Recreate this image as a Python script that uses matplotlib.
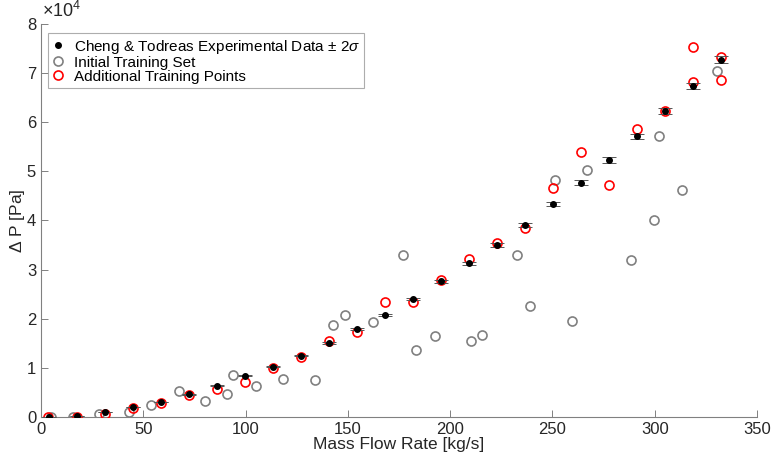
import matplotlib
matplotlib.use("Agg")
import matplotlib.pyplot as plt  # noqa: E402
import numpy as np  # noqa: E402

# experimental data (kg/s, Pa)
exp_flow = [3.9, 17.4, 31.1, 44.8, 58.5, 72.3, 85.9, 99.7, 113.2, 127.1, 140.8, 154.3, 168.1,
            181.8, 195.4, 209.2, 222.9, 236.6, 250.4, 264.1, 277.8, 291.4, 305.1, 318.8, 332.4]
exp_dp = [0.00, 0.02, 0.10, 0.20, 0.31, 0.46, 0.64, 0.84, 1.02, 1.25, 1.51, 1.79, 2.08,
          2.40, 2.76, 3.13, 3.50, 3.90, 4.33, 4.77, 5.23, 5.71, 6.22, 6.74, 7.27]
exp_err = [0.01 * v for v in exp_dp]

# initial training set
init_flow = [4.9, 15.8, 28.5, 43.0, 53.8, 67.6, 80.0, 90.8, 94.0, 105.2, 118.4, 133.8, 142.9,
             148.6, 162.1, 177.1, 183.1, 192.6, 210.0, 215.7, 232.6, 239.0, 251.1, 259.5,
             266.7, 288.4, 299.6, 302.1, 313.4, 330.6]
init_dp = [0.00, 0.00, 0.07, 0.10, 0.25, 0.52, 0.33, 0.47, 0.85, 0.64, 0.77, 0.75, 1.87,
           2.08, 1.93, 3.29, 1.36, 1.64, 1.54, 1.66, 3.29, 2.25, 4.82, 1.95,
           5.03, 3.20, 4.01, 5.71, 4.63, 7.04]

# additional training points
add_flow = [3.6, 17.4, 31.1, 44.8, 58.5, 72.3, 85.9, 99.7, 113.2, 127.1, 140.8, 154.3, 168.1,
            181.8, 195.4, 209.2, 222.9, 236.6, 250.4, 264.1, 277.8, 291.4, 305.1, 318.8,
            318.8, 332.4, 332.4]
add_dp = [0.00, 0.00, 0.07, 0.18, 0.28, 0.44, 0.57, 0.71, 1.00, 1.23, 1.55, 1.73, 2.34,
          2.35, 2.78, 3.22, 3.54, 3.84, 4.66, 5.39, 4.72, 5.86, 6.22, 7.53,
          6.81, 7.33, 6.86]

scale = 1e4

plt.rcParams["font.family"] = ["Liberation Sans", "DejaVu Sans"]
plt.rcParams["mathtext.fontset"] = "custom"
plt.rcParams["mathtext.rm"] = "Liberation Sans"
plt.rcParams["mathtext.it"] = "Liberation Sans:italic"

fig = plt.figure(figsize=(7.72, 4.61), dpi=100)
ax = fig.add_axes([0.0531, 0.0954, 0.9275, 0.8526])

h_init, = ax.plot(init_flow, np.array(init_dp) * scale, "o", ms=6.5, mfc="none",
                  mec="#808080", mew=1.2, ls="none", zorder=2)
h_add, = ax.plot(add_flow, np.array(add_dp) * scale, "o", ms=6.5, mfc="none",
                 mec="red", mew=1.2, ls="none", zorder=3)
ax.errorbar(exp_flow, np.array(exp_dp) * scale, yerr=np.array(exp_err) * scale, fmt="none",
            ecolor="#555555", elinewidth=0.7, capsize=4.7, capthick=0.7, zorder=4)
h_exp, = ax.plot(exp_flow, np.array(exp_dp) * scale, "o", ms=4, color="black", ls="none",
                 zorder=5)

ax.set_xlim(0, 350)
ax.set_ylim(0, 8e4)
ax.set_xticks(range(0, 351, 50))
ax.set_yticks(np.arange(0, 9) * scale)
ax.set_yticklabels([str(i) for i in range(9)])
ax.text(0.002, 1.008, r"$\times10^{4}$", transform=ax.transAxes, fontsize=13,
        ha="left", va="bottom", color="#262626")

for side in ("top", "right"):
    ax.spines[side].set_visible(False)
for side in ("left", "bottom"):
    ax.spines[side].set_color("#808080")
    ax.spines[side].set_linewidth(0.8)
ax.tick_params(direction="in", length=5, width=0.7, color="#808080",
               labelsize=12, labelcolor="#262626")

ax.set_xlabel("Mass Flow Rate [kg/s]", fontsize=12.5, color="#262626", labelpad=0)
ax.set_ylabel(r"$\Delta$ P [Pa]", fontsize=12.5, color="#262626", labelpad=0)

leg = ax.legend([h_exp, h_init, h_add],
                [r"Cheng & Todreas Experimental Data $\pm$ 2$\sigma$",
                 "Initial Training Set", "Additional Training Points"],
                loc="upper left", bbox_to_anchor=(0.005, 0.985), fontsize=11,
                frameon=True, fancybox=False, borderpad=0.3, labelspacing=0.0,
                handlelength=0.8, handletextpad=0.6, borderaxespad=0.2)
leg.get_frame().set_edgecolor("#999999")
leg.get_frame().set_linewidth(0.8)

fig.savefig("out.png", dpi=100)
